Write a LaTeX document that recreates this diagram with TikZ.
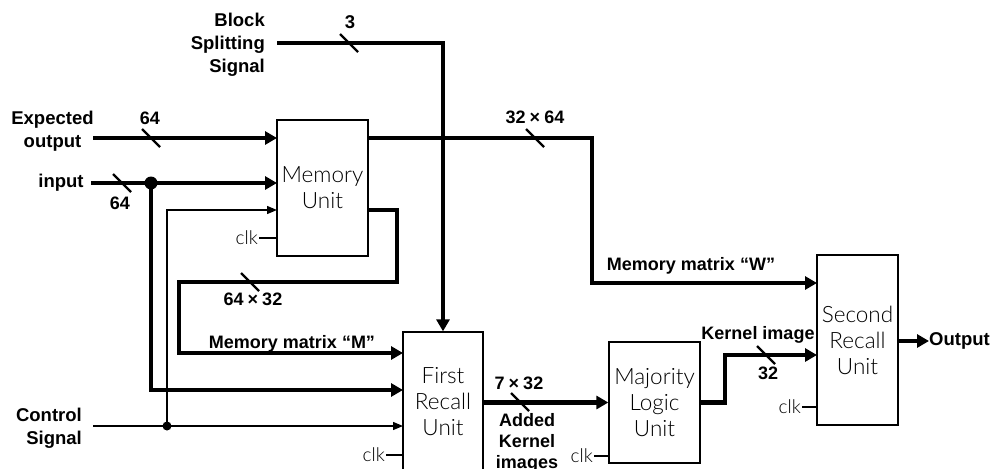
\documentclass[tikz,border=0pt]{standalone}
\usepackage{fontspec}
\usetikzlibrary{arrows.meta}
\newfontfamily\labfont{Liberation Sans}
\newfontfamily\lightfont{Lato Light}
\newcommand{\bytimes}{\hspace{4pt}×\hspace{4pt}}
\begin{document}
\begin{tikzpicture}[x=1pt,y=-1pt,
  box/.style={draw, line width=1.3pt, inner sep=0pt, align=center,
    font=\lightfont\fontsize{22.5}{26}\selectfont},
  biglab/.style={inner sep=0pt, font=\labfont\bfseries\fontsize{18.5}{23}\selectfont},
  lab/.style={inner sep=0pt, font=\labfont\bfseries\fontsize{18}{21}\selectfont},
  clklab/.style={inner sep=1pt, font=\lightfont\fontsize{19}{20}\selectfont, anchor=east},
  thickarrow/.style={line width=4.5pt, -{Triangle[length=12pt,width=13pt]}},
  thickline/.style={line width=4.5pt},
  thinarrow/.style={line width=1.3pt, -{Triangle[length=10pt,width=8pt]}},
  thinline/.style={line width=1.3pt},
  slash/.pic={\draw[line width=2.2pt] (-9,-9) -- (9,9);}
]
\useasboundingbox (0,0) rectangle (1000,468);

% boxes
\node[box, minimum width=91pt, minimum height=136pt] (mem) at (322.5,188) {Memory\\Unit};
\node[box, minimum width=80pt, minimum height=140pt] (fr) at (443,402) {First\\Recall\\Unit};
\node[box, minimum width=91pt, minimum height=121pt] (ml) at (654.5,402.5) {Majority\\Logic\\Unit};
\node[box, minimum width=81pt, minimum height=170pt] (sr) at (857.5,340) {Second\\Recall\\Unit};

% input labels
\node[biglab, align=right, anchor=east] (bss) at (265,45) {Block\\Splitting\\Signal};
\node[biglab, align=center] (eo) at (52.5,131.5) {Expected\\output};
\node[biglab] (inp) at (61,183) {input};
\node[biglab, align=right, anchor=east] (cs) at (82,428.5) {Control\\Signal};
\node[biglab, anchor=west] (out) at (929,341) {Output};

% named coordinates
\coordinate (bsS) at (277,43);
\coordinate (eoS) at (93,138);
\coordinate (inS) at (91,183);
\coordinate (dot1) at (151,183);
\coordinate (csS) at (93,426);
\coordinate (dot2) at (167,426);
\coordinate (memE) at (277,138);
\coordinate (memI) at (277,183);
\coordinate (memC) at (277,210);
\coordinate (memO1) at (368,138);
\coordinate (memO2) at (368,210);
\coordinate (wbend) at (592,283);
\coordinate (srW) at (817,283);
\coordinate (mB1) at (397,282);
\coordinate (mB2) at (179,353);
\coordinate (frM) at (403,353);
\coordinate (frI) at (403,390);
\coordinate (frC) at (403,426);
\coordinate (kb) at (725,355);
\coordinate (srK) at (817,355);

% connectors
\draw[thickarrow] (bsS) -| (fr.north);
\draw[thickarrow] (eoS) -- (memE);
\draw[thickarrow] (inS) -- (memI);
\draw[thickarrow] (dot1) |- (frI);
\draw[thickarrow] (memO1) -| (wbend) |- (srW);
\draw[thickarrow] (memO2) -| (mB1) -| (mB2) |- (frM);
\draw[thinarrow] (csS) -- (frC);
\draw[thinarrow] (dot2) |- (memC);
\draw[thickarrow] (fr.east |- ml.west) -- (ml.west);
\draw[thickarrow] (ml.east) -| (kb) |- (srK);
\draw[thickarrow] (sr.east |- out.west) -- (out.west);
\fill (dot1) circle (6.5pt);
\fill (dot2) circle (4.5pt);

% clocks
\node[clklab] (c1) at (259,238) {clk};
\node[clklab] (c2) at (386,455) {clk};
\node[clklab] (c3) at (594,456) {clk};
\node[clklab] (c4) at (802,407) {clk};
\draw[thinline] (c1.east) -- (c1.east -| mem.west);
\draw[thinline] (c2.east) -- (c2.east -| fr.west);
\draw[thinline] (c3.east) -- (c3.east -| ml.west);
\draw[thinline] (c4.east) -- (c4.east -| sr.west);

% bus slashes
\pic at (349,43) {slash};
\pic at (151,138) {slash};
\pic at (122,183) {slash};
\pic at (535,138) {slash};
\pic at (250,282) {slash};
\pic at (520,402) {slash};
\pic at (766,355) {slash};

% bus labels
\node[biglab] (l3) at (350,22) {3};
\node[lab] (l64a) at (150,118.5) {64};
\node[lab] (l64b) at (120,203) {64};
\node[lab] (l3264) at (535,117) {32\bytimes 64};
\node[lab] (l6432) at (253,299.5) {64\bytimes 32};
\node[lab] (lM) at (292,344) {Memory matrix “M”};
\node[lab] (lW) at (691,266) {Memory matrix “W”};
\node[lab] (l732) at (519,383) {7\bytimes 32};
\node[lab, align=center] (lak) at (527,443) {Added\\Kernel\\images};
\node[lab] (lk) at (758,335) {Kernel image};
\node[lab] (l32) at (768,373) {32};
\end{tikzpicture}
\end{document}
